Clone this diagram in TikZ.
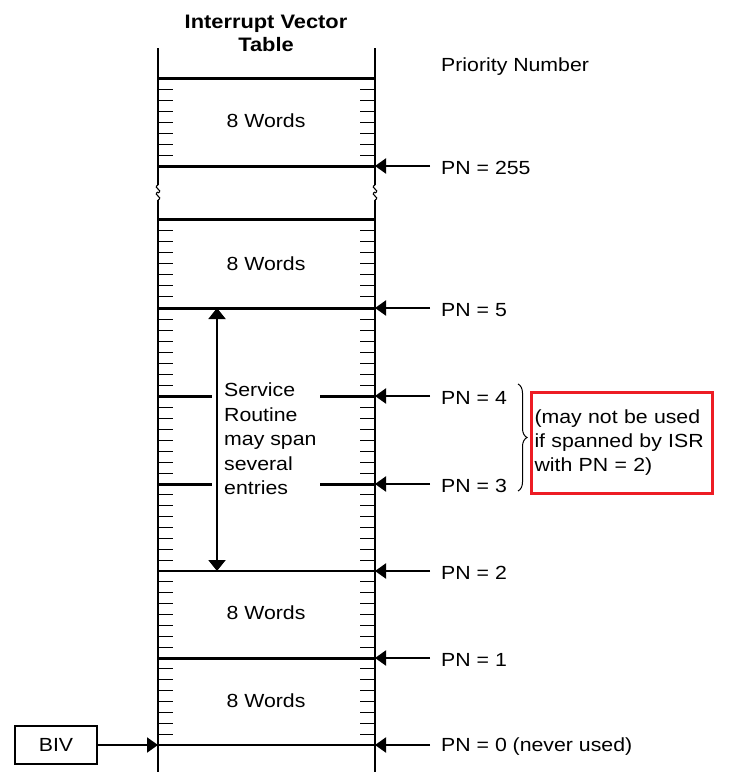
\documentclass[tikz,border=0pt]{standalone}
\usepackage{fontspec}
\setmainfont{Liberation Sans}[FakeStretch=1.12]
\usepackage{tikz}
\usetikzlibrary{arrows.meta, positioning, decorations.pathreplacing}
\definecolor{Rojo}{RGB}{237, 28, 36}

\begin{document}
\begin{tikzpicture}[x=1pt, y=-1pt,
        rail/.style={line width=2.4pt, draw=black},
        entry/.style={line width=3pt, draw=black},
        thin_entry/.style={line width=2pt, draw=black},
        word_tick/.style={line width=1pt, draw=black},
        pn_arrow/.style={line width=2pt, -{Triangle[length=11pt, width=15pt]}},
        pn_label/.style={anchor=west, font=\fontsize{19}{22}\selectfont, inner xsep=11pt, inner ysep=0pt, yshift=-2pt},
        words/.style={font=\fontsize{19}{22}\selectfont, yshift=-1pt}
    ]
        \useasboundingbox (0,0) rectangle (730,779);

        % Titulos
        \node[font=\bfseries\fontsize{19.5}{23}\selectfont, align=center] (titulo) at (266,33) {Interrupt Vector\\Table};
        \node[pn_label] (prio) at (430,65) {Priority Number};

        % Rieles verticales de la tabla
        \draw[rail] (158,48) -- (158,772);
        \draw[rail] (375,48) -- (375,772);

        % Marcas de corte en los rieles
        \foreach \x in {158,375} {
            \fill[white] (\x-3,185) rectangle (\x+3,200);
            \draw[line width=1.1pt] (\x,185) .. controls (\x-6,188) and (\x+6,190) .. (\x,193);
            \draw[line width=1.1pt] (\x,192) .. controls (\x-6,195) and (\x+6,197) .. (\x,200);
        }

        % Marcas de palabra (8 por entrada)
        \foreach \t/\b in {78/166, 219/308, 308/396, 396/484, 484/571, 571/658, 658/745} {
            \foreach \k in {1,...,7} {
                \draw[word_tick] (158,{\t+\k*(\b-\t)/8}) -- (173,{\t+\k*(\b-\t)/8});
                \draw[word_tick] (360,{\t+\k*(\b-\t)/8}) -- (375,{\t+\k*(\b-\t)/8});
            }
        }

        % Lineas de entrada completas
        \foreach \y in {78,166,219,308,658} {
            \draw[entry] (158,\y) -- (375,\y);
        }
        \foreach \y in {571,745} {
            \draw[thin_entry] (158,\y) -- (375,\y);
        }
        % Lineas parciales dentro de la rutina de servicio
        \foreach \y in {396,484} {
            \draw[entry] (158,\y) -- (212,\y);
            \draw[entry] (320,\y) -- (375,\y);
        }

        % Bloques de 8 palabras
        \node[words] (w255) at (266,120) {8 Words};
        \node[words] (w4) at (266,263) {8 Words};
        \node[words] (w1) at (266,612) {8 Words};
        \node[words] (w0) at (266,700) {8 Words};

        % Rutina de servicio
        \coordinate (sr_top) at (217,308);
        \coordinate (sr_bot) at (217,571);
        \draw[line width=2pt, {Triangle[length=11pt, width=17pt]}-{Triangle[length=11pt, width=17pt]}] (sr_top) -- (sr_bot);
        \node[font=\fontsize{19}{24.5}\selectfont, align=left, anchor=north west, inner sep=0pt] (servicio) at (224,383)
            {Service\\Routine\\may span\\several\\entries};

        % Numeros de prioridad con flechas al riel derecho
        \foreach \n/\y/\txt in {255/166/{PN = 255}, 5/308/{PN = 5}, 4/396/{PN = 4}, 3/484/{PN = 3},
                                2/571/{PN = 2}, 1/658/{PN = 1}, 0/745/{PN = 0 (never used)}} {
            \coordinate (r\n) at (375,\y);
            \node[pn_label] (pn\n) at (430,\y) {\txt};
            \draw[pn_arrow] (pn\n.west |- r\n) -- (r\n);
        }

        % Llave y nota en rojo
        \draw[line width=1pt, decorate, decoration={brace, amplitude=9pt}] (518,384) -- (518,491);
        \node[draw=Rojo, line width=3pt, anchor=north west, minimum width=181pt, minimum height=101pt,
              text width=175pt, inner xsep=3pt, align=left, font=\fontsize{19}{24}\selectfont] (nota) at (530,391)
            {(may not be used\\if spanned by ISR\\with PN = 2)};

        % Registro base BIV
        \node[draw, line width=2.4pt, minimum width=82pt, minimum height=38pt, font=\fontsize{19}{22}\selectfont] (biv) at (56,745) {BIV};
        \coordinate (l0) at (158,745);
        \draw[pn_arrow] (biv.east) -- (l0);
    \end{tikzpicture}
\end{document}
